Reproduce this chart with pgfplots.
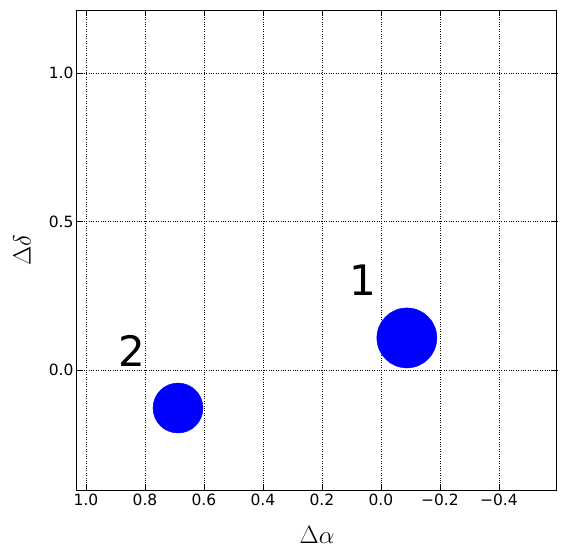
\documentclass[border=0pt]{standalone}
\usepackage{fontspec}
\setmainfont{DejaVu Sans}
\usepackage{pgfplots}
\pgfplotsset{compat=1.18}
\begin{document}
\begin{tikzpicture}
\path[use as bounding box] (-77pt,-68pt) rectangle (489pt,490pt);
\begin{axis}[
  at={(0,0)}, anchor=south west,
  scale only axis,
  width=480pt, height=480pt,
  x dir=reverse,
  xmin=-0.597, xmax=1.0305,
  ymin=-0.404, ymax=1.212,
  xtick={1.0,0.8,0.6,0.4,0.2,0.0,-0.2,-0.4},
  xticklabels={1.0,0.8,0.6,0.4,0.2,0.0,−0.2,−0.4},
  ytick={0.0,0.5,1.0},
  yticklabels={0.0,0.5,1.0},
  tick align=inside,
  tick pos=both,
  major tick length=6pt,
  tick style={black, line width=0.6pt},
  grid=major,
  grid style={black, dotted, line width=0.6pt},
  axis line style={black, line width=1pt},
  ticklabel style={font=\fontsize{15.5}{18}\selectfont},
  xlabel={$\Delta\alpha$},
  ylabel={$\Delta\delta$},
  label style={font=\fontsize{28}{32}\selectfont},
  xlabel style={at={(axis description cs:0.5,-0.094)}, anchor=center},
  ylabel style={at={(axis description cs:-0.1146,0.5)}, anchor=center},
  clip=false,
]
\addplot[only marks, mark=*, mark size=30pt, color=blue, mark options={draw=blue, fill=blue}] coordinates {(-0.088,0.108)};
\addplot[only marks, mark=*, mark size=25pt, color=blue, mark options={draw=blue, fill=blue}] coordinates {(0.688,-0.128)};
\node[font=\fontsize{42}{46}\selectfont] at (axis cs:0.061,0.303) {1};
\node[font=\fontsize{42}{46}\selectfont] at (axis cs:0.844,0.064) {2};
\end{axis}
\end{tikzpicture}
\end{document}
